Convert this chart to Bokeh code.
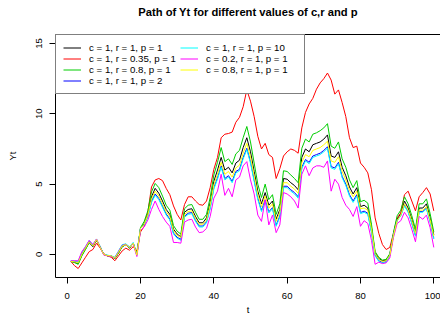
from bokeh.plotting import figure
from bokeh.models import Legend, LegendItem, FixedTicker, Range1d, LinearAxis
from bokeh.embed import file_html
from bokeh.resources import INLINE

t = list(range(1, 101))

y_black = [-0.50, -0.55, -0.65, -0.05, 0.40, 0.85, 0.55, 1.00, 0.50, 0.00,
           -0.10, -0.12, -0.30, 0.10, 0.55, 0.70, 0.45, 0.80, 0.00, 1.85,
           2.20, 2.90, 4.10, 4.70, 4.35, 3.80, 3.20, 2.85, 1.80, 1.45,
           1.25, 3.00, 3.20, 3.25, 2.70, 2.25, 2.25, 2.60, 3.70, 5.20,
           6.00, 6.90, 6.00, 6.20, 5.80, 6.50, 6.70, 7.60, 8.30, 7.30,
           5.90, 4.50, 3.60, 4.40, 3.50, 3.80, 2.50, 3.20, 5.40, 5.35,
           5.10, 4.90, 4.60, 6.90, 7.50, 7.30, 7.80, 7.90, 8.00, 8.20,
           8.50, 7.00, 6.90, 7.30, 6.20, 5.60, 4.80, 4.30, 4.75, 3.40,
           3.50, 3.30, 1.90, 0.10, -0.30, -0.45, -0.40, 0.00, 1.40, 2.50,
           2.90, 3.80, 3.30, 2.50, 1.60, 3.30, 3.30, 3.60, 2.60, 1.40]

y_red = [-0.50, -0.80, -1.00, -0.60, -0.20, 0.20, 0.35, 0.80, 0.45, 0.05,
         -0.10, -0.20, -0.45, -0.10, 0.25, 0.45, 0.30, 0.55, 0.25, 1.60,
         2.00, 3.00, 4.80, 5.30, 5.40, 5.25, 4.70, 4.25, 3.45, 2.85,
         2.45, 3.55, 4.10, 4.10, 3.80, 3.55, 3.50, 3.80, 4.75, 6.05,
         6.90, 8.30, 8.55, 8.60, 8.70, 9.40, 9.75, 10.50, 11.70, 10.90,
         9.80, 8.40, 7.50, 7.90, 7.10, 6.90, 5.40, 6.10, 7.00, 7.30,
         7.50, 7.40, 7.20, 9.00, 10.10, 10.70, 11.10, 11.75, 12.20, 12.50,
         12.90, 12.40, 11.40, 11.70, 10.80, 9.80, 8.30, 7.60, 7.70, 6.50,
         6.20, 5.80, 4.60, 2.60, 1.50, 0.70, 0.35, 0.50, 1.50, 2.60,
         2.95, 4.25, 4.50, 3.80, 3.10, 4.10, 4.40, 4.75, 4.30, 3.10]

y_green = [-0.50, -0.58, -0.70, -0.10, 0.35, 0.85, 0.60, 1.05, 0.55, 0.00,
           -0.10, -0.12, -0.30, 0.10, 0.55, 0.70, 0.45, 0.80, 0.05, 1.90,
           2.35, 3.10, 4.45, 5.05, 4.75, 4.15, 3.50, 3.15, 2.05, 1.65,
           1.45, 3.25, 3.50, 3.55, 3.00, 2.50, 2.50, 2.85, 4.05, 5.65,
           6.55, 7.60, 6.60, 6.80, 6.40, 7.15, 7.40, 8.30, 9.10, 8.00,
           6.50, 5.00, 4.05, 5.00, 3.90, 4.25, 2.85, 3.60, 5.95, 5.90,
           5.65, 5.40, 5.10, 7.55, 8.20, 8.00, 8.55, 8.65, 8.80, 9.00,
           9.30, 7.70, 7.55, 8.00, 6.80, 6.20, 5.30, 4.75, 5.25, 3.75,
           3.85, 3.65, 2.15, 0.20, -0.20, -0.40, -0.35, 0.05, 1.55, 2.75,
           3.15, 4.10, 3.60, 2.75, 1.80, 3.60, 3.60, 3.95, 2.90, 1.60]

y_blue = [-0.48, -0.50, -0.55, 0.10, 0.50, 0.95, 0.65, 1.05, 0.55, 0.00,
          -0.07, -0.10, -0.22, 0.20, 0.65, 0.72, 0.52, 0.82, -0.05, 1.85,
          2.12, 2.70, 3.78, 4.30, 3.98, 3.43, 2.88, 2.52, 1.52, 1.22,
          1.07, 2.72, 2.93, 2.98, 2.42, 2.02, 2.02, 2.32, 3.33, 4.75,
          5.45, 6.30, 5.40, 5.60, 5.20, 5.90, 6.05, 6.90, 7.55, 6.60,
          5.30, 4.00, 3.13, 3.88, 3.03, 3.33, 2.08, 2.73, 4.85, 4.85,
          4.60, 4.40, 4.10, 6.20, 6.75, 6.55, 7.00, 7.10, 7.20, 7.40,
          7.65, 6.25, 6.15, 6.55, 5.55, 5.00, 4.25, 3.80, 4.25, 2.98,
          3.08, 2.93, 1.63, -0.05, -0.45, -0.57, -0.52, -0.08, 1.37, 2.43,
          2.78, 3.50, 3.05, 2.25, 1.35, 3.05, 3.05, 3.30, 2.35, 1.15]

y_cyan = [-0.45, -0.45, -0.50, 0.15, 0.55, 1.00, 0.70, 1.10, 0.55, 0.00,
          -0.05, -0.10, -0.20, 0.25, 0.70, 0.75, 0.55, 0.85, -0.05, 1.85,
          2.10, 2.65, 3.70, 4.20, 3.90, 3.35, 2.80, 2.45, 1.45, 1.15,
          1.00, 2.65, 2.85, 2.90, 2.35, 1.95, 1.95, 2.25, 3.25, 4.65,
          5.35, 6.20, 5.30, 5.50, 5.10, 5.80, 5.95, 6.80, 7.45, 6.50,
          5.20, 3.90, 3.05, 3.80, 2.95, 3.25, 2.00, 2.65, 4.75, 4.75,
          4.50, 4.30, 4.00, 6.10, 6.65, 6.45, 6.90, 7.00, 7.10, 7.30,
          7.55, 6.15, 6.05, 6.45, 5.45, 4.90, 4.15, 3.70, 4.15, 2.90,
          3.00, 2.85, 1.55, -0.10, -0.50, -0.60, -0.55, -0.10, 1.35, 2.40,
          2.75, 3.45, 3.00, 2.20, 1.30, 3.00, 3.00, 3.25, 2.30, 1.10]

y_magenta = [-0.45, -0.45, -0.45, 0.20, 0.55, 1.00, 0.70, 1.10, 0.50, -0.05,
             -0.10, -0.15, -0.25, 0.20, 0.65, 0.70, 0.50, 0.75, -0.15, 1.70,
             1.95, 2.45, 3.20, 3.80, 3.20, 2.70, 2.30, 2.00, 0.85, 0.85,
             0.80, 2.30, 2.45, 2.50, 1.95, 1.55, 1.60, 1.85, 2.70, 4.00,
             4.50, 5.70, 4.20, 4.70, 4.10, 5.30, 5.50, 6.30, 6.60, 5.30,
             4.30, 2.80, 2.35, 3.90, 2.10, 2.80, 1.55, 2.10, 4.40, 4.30,
             4.10, 3.80, 3.30, 5.70, 6.30, 5.60, 6.15, 6.30, 6.30, 6.20,
             6.65, 4.50, 5.35, 5.00, 4.05, 3.50, 3.20, 2.70, 3.40, 2.00,
             2.40, 2.20, 1.00, -0.70, -0.55, -0.65, -0.60, -0.25, 1.20, 2.20,
             2.40, 3.00, 2.60, 1.80, 0.90, 2.70, 2.50, 2.80, 1.90, 0.50]

y_yellow = [-0.50, -0.52, -0.60, 0.00, 0.45, 0.90, 0.60, 1.05, 0.50, 0.00,
            -0.08, -0.10, -0.25, 0.15, 0.60, 0.70, 0.50, 0.80, -0.05, 1.85,
            2.15, 2.80, 3.95, 4.50, 4.15, 3.60, 3.05, 2.70, 1.70, 1.35,
            1.20, 2.85, 3.05, 3.10, 2.55, 2.15, 2.15, 2.45, 3.50, 4.95,
            5.70, 6.55, 5.70, 5.90, 5.50, 6.15, 6.35, 7.20, 7.90, 6.95,
            5.60, 4.25, 3.40, 4.15, 3.30, 3.60, 2.35, 3.00, 5.10, 5.10,
            4.85, 4.65, 4.35, 6.55, 7.10, 6.95, 7.40, 7.50, 7.60, 7.80,
            8.05, 6.65, 6.55, 6.95, 5.90, 5.30, 4.55, 4.10, 4.50, 3.25,
            3.30, 3.15, 1.80, 0.05, -0.35, -0.50, -0.45, -0.05, 1.35, 2.40,
            2.80, 3.60, 3.15, 2.40, 1.50, 3.15, 3.15, 3.40, 2.45, 1.30]

series_labels = ["c = 1, r = 1, p = 1", "c = 1, r = 0.35, p = 1",
                 "c = 1, r = 0.8, p = 1", "c = 1, r = 1, p = 2",
                 "c = 1, r = 1, p = 10", "c = 0.2, r = 1, p = 1",
                 "c = 0.8, r = 1, p = 1"]
series_colors = ["#000000", "#FF0000", "#00CD00", "#0000FF",
                 "#00FFFF", "#FF00FF", "#FFFF00"]
series_values = [y_black, y_red, y_green, y_blue, y_cyan, y_magenta, y_yellow]

x_ticks = [0, 20, 40, 60, 80, 100]
y_ticks = [0, 5, 10, 15]
title_text = "Path of Yt for different values of c,r and p"

FONT = "Liberation Sans"

p = figure(width=440, height=320, output_backend="svg", toolbar_location=None,
           x_range=Range1d(-3.19, 101.83), y_range=Range1d(-1.64, 15.64),
           min_border_left=55, min_border_right=0, min_border_top=34,
           min_border_bottom=43, title=title_text)
p.background_fill_color = "white"
p.border_fill_color = "white"
p.outline_line_color = None
p.grid.visible = False

p.title.align = "center"
p.title.vertical_align = "bottom"
p.title.text_font = FONT
p.title.text_font_size = "11.2px"
p.title.text_font_style = "bold"
p.title.text_color = "black"
p.title.standoff = 2
p.title.offset = 4

for ax in (p.xaxis[0], p.yaxis[0]):
    ax.axis_line_color = "black"
    ax.major_tick_line_color = "black"
    ax.minor_tick_line_color = None
    ax.major_tick_out = 6
    ax.major_tick_in = 0
    ax.major_label_text_font = FONT
    ax.major_label_text_font_size = "9.5px"
    ax.major_label_text_color = "black"
    ax.axis_label_text_font = FONT
    ax.axis_label_text_font_size = "9.5px"
    ax.axis_label_text_font_style = "normal"
    ax.axis_label_text_color = "black"

p.xaxis.ticker = FixedTicker(ticks=x_ticks)
p.yaxis.ticker = FixedTicker(ticks=y_ticks)
p.xaxis.axis_label = "t"
p.yaxis.axis_label = "Yt"
p.xaxis.major_label_standoff = 9
p.xaxis.axis_label_standoff = 2
p.yaxis.major_label_orientation = "vertical"
p.yaxis.major_label_standoff = 8
p.yaxis.axis_label_standoff = 15

# top edge of the box; its blank label spaces the title away from the frame
top_axis = LinearAxis(ticker=FixedTicker(ticks=[]), axis_line_color="black",
                      major_tick_out=0, major_tick_in=0,
                      major_tick_line_color=None, minor_tick_line_color=None,
                      axis_label=" ", axis_label_standoff=2,
                      axis_label_text_font=FONT, axis_label_text_font_size="10px",
                      axis_label_text_color="white")
p.add_layout(top_axis, "above")

items = []
for lab, col, vals in zip(series_labels, series_colors, series_values):
    r = p.line(t, vals, line_color=col, line_width=1)
    items.append(LegendItem(label=lab, renderers=[r]))

legend = Legend(items=items, location="top_left", ncols=2, orientation="vertical",
                margin=0, padding=7, spacing=0,
                glyph_width=18, glyph_height=11, label_height=11,
                label_width=91, label_standoff=8,
                label_text_font=FONT, label_text_font_size="9.7px",
                label_text_color="black",
                border_line_color="black", border_line_width=1,
                background_fill_color="white", background_fill_alpha=1.0)
p.add_layout(legend, "center")

open("out.html", "w").write(file_html(p, INLINE))
